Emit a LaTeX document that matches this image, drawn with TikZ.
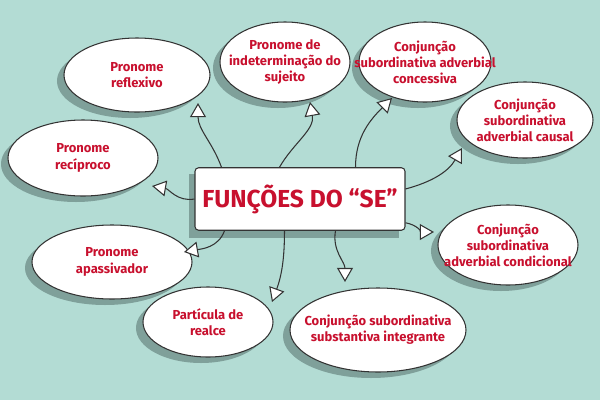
\documentclass[tikz,border=0pt]{standalone}
\usepackage{fontspec}
\setmainfont{Fira Sans}
\usetikzlibrary{arrows.meta,calc}
\definecolor{bg}{HTML}{B3DCD4}
\definecolor{sh}{HTML}{7FA09A}
\definecolor{tx}{HTML}{C8102E}
\newcommand{\bubble}[5]{%
  \fill[sh] ($(#2)+(-7,6)$) ellipse [x radius=#3,y radius=#4];
  \draw[black!80,line width=0.6pt,fill=white] (#2) ellipse [x radius=#3,y radius=#4];
  \node[lab] (#1) at (#2) {#5};}
\begin{document}
\begin{tikzpicture}[x=0.02cm,y=-0.02cm,
  lab/.style={font=\bfseries\fontsize{7.4}{9.2}\selectfont,text=tx,align=center,inner sep=0pt},
  arr/.style={draw=black!80,line width=0.6pt,-{Triangle[length=8pt,width=9pt,fill=white]}}]
\fill[bg] (0,0) rectangle (600,400);
\useasboundingbox (0,0) rectangle (600,400);
\bubble{a}{137,75}{73}{37}{Pronome\\reflexivo}
\bubble{e}{83,158}{75}{38}{Pronome\\recíproco}
\bubble{f}{112,262}{80}{37}{Pronome\\apassivador}
\bubble{h}{208,322}{65}{35}{Partícula de\\realce}
\bubble{i}{378,330}{88}{42}{Conjunção subordinativa\\substantiva integrante}
\bubble{g}{508,245}{70}{40}{Conjunção\\subordinativa\\adverbial condicional}
\bubble{d}{525,120}{68}{38}{Conjunção\\subordinativa\\adverbial causal}
\bubble{b}{285,62}{65}{40}{Pronome de\\indeterminação do\\sujeito}
\bubble{c}{425,62}{66}{40}{Conjunção\\subordinativa adverbial\\concessiva}
\fill[sh] (189,174) rectangle (399,238);
\node[draw=black!80,line width=0.6pt,fill=white,rounded corners=2pt,minimum width=4.2cm,minimum height=1.25cm,
  font=\bfseries\fontsize{14}{17}\selectfont,text=tx] (m) at (300,199) {FUNÇÕES DO “SE”};
\coordinate (ta) at (198,103); \coordinate (tb) at (310,102);
\coordinate (tc) at (392,98); \coordinate (td) at (462,148);
\coordinate (te) at (152,186); \coordinate (tf) at (184,252);
\coordinate (tg) at (434,232); \coordinate (th) at (272,302);
\coordinate (ti) at (345,282);
\draw[arr] ($(m.north west)+(27,0)$) to[out=110,in=-90] (ta);
\draw[arr] ($(m.north west)+(85,0)$) to[out=60,in=-80] (tb);
\draw[arr] ($(m.north east)+(-50,0)$) to[out=90,in=-135] (tc);
\draw[arr] ($(m.east)+(0,-10)$) to[out=15,in=-120] (td);
\draw[arr] (m.west) to[out=190,in=-10] (te);
\draw[arr] ($(m.south west)+(30,0)$) to[out=-110,in=10] (tf);
\draw[arr] ($(m.south east)+(0,-8)$) to[out=-10,in=180] (tg);
\draw[arr] ($(m.south west)+(90,0)$) to[out=-90,in=70] (th);
\draw[arr] ($(m.south east)+(-70,0)$) to[out=-100,in=90] (ti);
\end{tikzpicture}
\end{document}
